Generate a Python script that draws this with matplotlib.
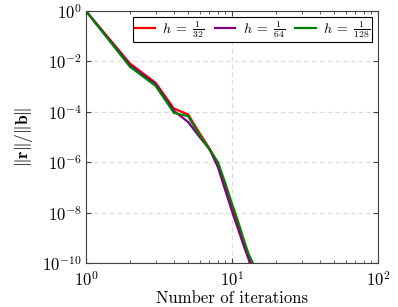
import numpy as np
import matplotlib
matplotlib.use("Agg")
import matplotlib.pyplot as plt
from matplotlib.ticker import LogLocator, NullFormatter

plt.rcParams['font.family'] = 'serif'
plt.rcParams['font.serif'] = ['cmr10']
plt.rcParams['mathtext.fontset'] = 'cm'
plt.rcParams['axes.formatter.use_mathtext'] = True

# residual history (log10 of ||r||/||b||) per iteration
iters = [1, 2, 3, 4, 5, 6, 7, 8, 9, 10, 11, 12, 13, 14, 15]
res_32 = [0, -2.08, -2.85, -3.87, -4.10, -4.85, -5.45, -6.04, -6.92, -7.78, -8.50, -9.20, -9.80, -10.15, -10.9]
res_64 = [0, -2.15, -2.90, -3.96, -4.40, -5.00, -5.47, -6.19, -7.12, -7.95, -8.65, -9.30, -9.85, -10.45, -11.1]
res_128 = [0, -2.21, -2.97, -4.04, -4.17, -4.93, -5.49, -5.99, -6.84, -7.65, -8.35, -9.05, -9.65, -10.05, -10.7]

labels = [r'$h\;=\;\frac{1}{32}$', r'$h\;=\;\frac{1}{64}$', r'$h\;=\;\frac{1}{128}$']
colors = ['red', '#800080', 'green']

fig = plt.figure(figsize=(3.98, 3.07), dpi=100)
ax = fig.add_axes([0.216, 0.143, 0.734, 0.821])

for res, lab, col in zip([res_32, res_64, res_128], labels, colors):
    ax.plot(iters, 10.0 ** np.array(res), color=col, lw=1.6, label=lab)

ax.set_xscale('log')
ax.set_yscale('log')
ax.set_xlim(1, 100)
ax.set_ylim(1e-10, 1)
ax.set_yticks([1e-10, 1e-8, 1e-6, 1e-4, 1e-2, 1])
ax.yaxis.set_minor_locator(plt.NullLocator())
ax.xaxis.set_minor_locator(LogLocator(base=10, subs=np.arange(2, 10)))
ax.xaxis.set_minor_formatter(NullFormatter())

ax.grid(True, which='major', ls=(0, (4, 3)), color='#d9d9d9', lw=0.8)
ax.tick_params(which='both', direction='in', top=True, right=True, color='#404040', labelsize=12)
ax.tick_params(which='major', length=3.5, pad=3)
ax.tick_params(axis='x', which='major', pad=5)
ax.tick_params(which='minor', length=2)
for s in ax.spines.values():
    s.set_color('#404040')
    s.set_linewidth(0.8)

ax.set_xlabel('Number of iterations', fontsize=12, labelpad=1)
ax.set_ylabel(r'$\|\mathbf{r}\|/\|\mathbf{b}\|$', fontsize=12.5, labelpad=5)

leg = ax.legend(loc='upper right', ncol=3, fancybox=False, framealpha=1, edgecolor='black',
                fontsize=10, handlelength=1.45, columnspacing=0.75, handletextpad=0.55,
                borderpad=0.15, borderaxespad=0, bbox_to_anchor=(0.98, 0.978))
leg.get_frame().set_linewidth(0.8)

fig.savefig('out.png', dpi=100)
